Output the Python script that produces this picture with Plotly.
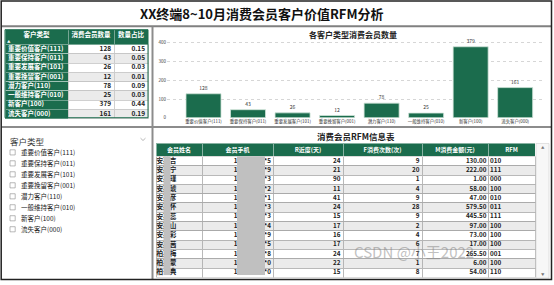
import plotly.graph_objects as go

# ---------------- data ----------------
TITLE = "XX终端8~10月消费会员客户价值RFM分析"
CHART_TITLE = "各客户类型消费会员数量"
TABLE_TITLE = "消费会员RFM信息表"
SLICER_TITLE = "客户类型"
WATERMARK = "CSDN @小王2022"

segments = ["重要价值客户(111)", "重要保持客户(011)", "重要发展客户(101)", "重要挽留客户(001)",
            "潜力客户(110)", "一般维持客户(010)", "新客户(100)", "流失客户(000)"]
member_counts = [128, 43, 26, 12, 78, 25, 379, 161]
member_shares = [0.15, 0.05, 0.03, 0.01, 0.09, 0.03, 0.44, 0.19]
summary_headers = ["客户类型", "消费会员数量", "数量占比"]
y_ticks = [0, 100, 200, 300, 400]

rfm_headers = ["会员姓名", "会员手机", "R近度(天)", "F消费次数(次)", "M消费金额(元)", "RFM"]
member_names = ["安某吉", "安某宁", "安某瑾", "安某琥", "安某彦", "安某怀", "安某蕊",
                "安某山", "安某彩", "安某茜", "柏某梅", "柏某蒙", "柏…典"]
member_phones = ["136*******5", "138*******9", "130*******3", "195*******2", "186*******1",
                 "159*******3", "177*******3", "185*******4", "138*******9", "133*******5",
                 "159*******8", "139*******0", "185*******0"]
recency_days = [24, 21, 90, 11, 41, 24, 15, 17, 16, 17, 24, 22, 15]
frequency_times = [9, 20, 1, 4, 9, 28, 9, 2, 4, 6, 7, 1, 8]
monetary_yuan = [130.00, 222.00, 1.00, 58.00, 47.00, 579.50, 445.50, 97.00, 73.00, 17.00, 265.50, 6.00, 54.00]
rfm_codes = ["010", "111", "000", "100", "010", "011", "111", "100", "100", "100", "001", "100", "110"]

# ---------------- style ----------------
W, H = 554, 285
FONT = "Noto Sans CJK SC, Noto Sans, sans-serif"
GREEN = "#1b6c4d"
STRIPE = "#ebebeb"
CLEAR = "rgba(0,0,0,0)"
PAD = 8  # plotly's internal table cell padding


def fx(x):
    return min(1.0, max(0.0, x / W))


def fy(y):
    return min(1.0, max(0.0, 1 - y / H))


fig = go.Figure()
shapes = []
annotations = []


def rect(x0, y0, x1, y1, color=CLEAR, width=0, fill=CLEAR):
    shapes.append(dict(type="rect", xref="paper", yref="paper", x0=fx(x0), x1=fx(x1), y0=fy(y1), y1=fy(y0),
                       line=dict(color=color, width=width), fillcolor=fill, layer="above"))


def hline(x0, x1, y, color, width):
    shapes.append(dict(type="line", xref="paper", yref="paper", x0=fx(x0), x1=fx(x1), y0=fy(y), y1=fy(y),
                       line=dict(color=color, width=width), layer="above"))


def vline(x, y0, y1, color, width):
    shapes.append(dict(type="line", xref="paper", yref="paper", x0=fx(x), x1=fx(x), y0=fy(y0), y1=fy(y1),
                       line=dict(color=color, width=width), layer="above"))


def label(x, y, s, size, color="#222", bold=False, xanchor="center"):
    annotations.append(dict(x=fx(x), y=fy(y), xref="paper", yref="paper", text=s, showarrow=False,
                            xanchor=xanchor, yanchor="middle",
                            font=dict(family=FONT, size=size, color=color, weight="bold" if bold else "normal")))


def draw_table(edges, y_top, head_h, row_h, head_vals, col_vals, aligns, pads, head_fs, cell_fs,
               head_center, cell_colors, col_fills, col_lines, head_line, groups=None):
    ncol = len(edges) - 1
    nrow = len(col_vals[0])
    widths = [edges[i + 1] - edges[i] for i in range(ncol)]
    total = head_h + nrow * row_h
    # 1) backgrounds & grid
    fig.add_trace(go.Table(
        domain=dict(x=[fx(edges[0]), fx(edges[-1])], y=[fy(y_top + total + 2), fy(y_top)]),
        columnwidth=widths,
        header=dict(values=[""] * ncol, height=head_h, fill_color=GREEN, line=dict(color=head_line, width=0.8)),
        cells=dict(values=[[""] * nrow for _ in range(ncol)], height=row_h,
                   fill_color=[list(c) for c in col_fills],
                   line=dict(color=col_lines, width=0.8)),
    ))
    # 2) header texts (centred in the real columns, shifted up to compensate internal padding)
    dyh = PAD + 0.5 * head_fs - head_center
    fig.add_trace(go.Table(
        domain=dict(x=[fx(edges[0]), fx(edges[-1])], y=[fy(y_top - dyh + head_h + 6), fy(y_top - dyh)]),
        columnwidth=widths,
        header=dict(values=head_vals, height=head_h, align="center", fill_color=CLEAR,
                    line=dict(width=0, color=CLEAR),
                    font=dict(family=FONT, size=head_fs, color="white", weight="bold")),
        cells=dict(values=[[""] for _ in range(ncol)], height=1, fill_color=CLEAR,
                   line=dict(width=0, color=CLEAR)),
    ))
    # 3) cell texts (column bounds widened so that the internal padding lands on the wanted edge)
    fs_all = cell_fs if isinstance(cell_fs, list) else [cell_fs] * ncol
    dyc = PAD + 0.5 * (sum(fs_all) / ncol) - row_h / 2
    top = y_top + head_h - dyc - 1
    for grp in (groups or [list(range(ncol))]):
        first = grp[0]
        bounds = [edges[first] + pads[first] - PAD if aligns[first] == "left" else edges[first]]
        for i in grp:
            bounds.append(edges[i + 1] - pads[i] + PAD if aligns[i] == "right" else edges[i + 1])
        fig.add_trace(go.Table(
            domain=dict(x=[fx(bounds[0]), fx(bounds[-1])], y=[fy(top + nrow * row_h + 30), fy(top)]),
            columnwidth=[bounds[k + 1] - bounds[k] for k in range(len(grp))],
            header=dict(values=[""] * len(grp), height=1, fill_color=CLEAR, line=dict(width=0, color=CLEAR)),
            cells=dict(values=[col_vals[i] for i in grp], height=row_h, align=[aligns[i] for i in grp],
                       fill_color=CLEAR, line=dict(width=0, color=CLEAR),
                       font=dict(family=FONT, size=[fs_all[i] for i in grp],
                                 color=[cell_colors[i] for i in grp], weight="bold")),
        ))


# ---------------- title ----------------
label(262, 13.5, TITLE, 13, "#111", bold=True)

# ---------------- summary table (top-left) ----------------
n_seg = len(segments)
stripes8 = ["white" if r % 2 == 0 else STRIPE for r in range(n_seg)]
draw_table(
    edges=[5, 68, 114, 148], y_top=30, head_h=15, row_h=9.25,
    head_vals=summary_headers,
    col_vals=[segments, [str(v) for v in member_counts], [f"{v:.2f}" for v in member_shares]],
    aligns=["left", "right", "right"], pads=[3, 2.5, 2.5],
    head_fs=6.5, cell_fs=6.5, head_center=5.5,
    cell_colors=["white", "#222", "#222"],
    col_fills=[[GREEN] * n_seg, stripes8, stripes8],
    col_lines=["rgba(255,255,255,0.45)", "#c4c4c4", "#c4c4c4"],
    head_line="rgba(255,255,255,0.5)",
)
rect(5, 30, 148, 30 + 15 + 8 * 9.25, color=GREEN, width=1)
label(9, 41.5, "▲", 3.5, "white")

# ---------------- bar chart (top-right) ----------------
fig.add_trace(go.Bar(
    x=segments, y=member_counts, width=0.786,
    marker=dict(color=GREEN, line=dict(color="#cfe3d8", width=0.8)),
    texttemplate="%{y}", textposition="outside", cliponaxis=False,
    textfont=dict(family=FONT, size=5, color="#333"),
    hoverinfo="skip",
))
label(353, 35, CHART_TITLE, 8, "#222", bold=True)

# ---------------- slicer (bottom-left) ----------------
label(8, 143, SLICER_TITLE, 8.5, "#333", xanchor="left")
shapes.append(dict(type="path", xref="paper", yref="paper",
                   path=f"M {fx(140.5)},{fy(139.6)} L {fx(143)},{fy(142)} L {fx(145.5)},{fy(139.6)}",
                   line=dict(color="#999", width=0.7), layer="above"))
for i, seg in enumerate(segments):
    yy = 154 + 11.1 * i
    rect(10, yy - 2.6, 15.2, yy + 2.6, color="#8a8a8a", width=0.6, fill="white")
    label(18.5, yy, seg, 6.5, "#222", xanchor="left")

# ---------------- RFM table (bottom-right) ----------------
n_mem = len(member_names)
stripes13 = ["white" if r % 2 == 0 else STRIPE for r in range(n_mem)]
label(356, 137.5, TABLE_TITLE, 8.5, "#222", bold=True)
draw_table(
    edges=[156, 202, 273, 343, 422, 488, 535], y_top=145, head_h=13, row_h=9.3,
    head_vals=rfm_headers,
    col_vals=[member_names, member_phones, [str(v) for v in recency_days], [str(v) for v in frequency_times],
              [f"{v:.2f}" for v in monetary_yuan], rfm_codes],
    aligns=["left", "right", "right", "right", "right", "left"], pads=[0.5, 2, 2.5, 2.5, 1.5, 2],
    head_fs=6, cell_fs=[6.6, 6.3, 6.3, 6.3, 6.3, 6.3], head_center=6.5,
    cell_colors=["#222"] * 6,
    col_fills=[stripes13 for _ in range(6)],
    col_lines=["#a8a8a8"] * 6,
    head_line="rgba(255,255,255,0.6)",
    groups=[[0, 1, 2, 3, 4], [5]],
)
# redaction boxes over names / phone numbers
rect(163.5, 158, 170.5, 278, fill="#c0c0c0")
rect(237, 158, 265, 278, fill="#c0c0c0")
# scrollbar
rect(536, 145, 549, 281, color="#d0d0d0", width=0.6, fill="#f7f7f7")
label(542.5, 149, "▲", 3.5, "#777")
label(542.5, 277, "▼", 3.5, "#777")
# watermark
annotations.append(dict(x=fx(476), y=fy(267), xref="paper", yref="paper", text=WATERMARK, showarrow=False,
                        font=dict(family=FONT, size=15, color="rgba(130,130,130,0.5)")))

# ---------------- panel separators ----------------
hline(1.5, 551.5, 26.5, "#808080", 2)
vline(152.5, 27, 282, "#8c8c8c", 2)
hline(1.5, 551.5, 128.3, "#8c8c8c", 2)
rect(1.2, 1, 551.5, 282.5, color="#222", width=1.5)

fig.update_layout(
    width=W, height=H, margin=dict(l=0, r=0, t=0, b=0, pad=0),
    paper_bgcolor="white", plot_bgcolor="white", showlegend=False,
    font=dict(family=FONT, color="#333"),
    shapes=shapes, annotations=annotations,
    xaxis=dict(domain=[fx(167), fx(545)], range=[-0.82, 7.67], type="category",
               showgrid=False, showline=False, zeroline=False, ticks="", tickangle=0,
               tickfont=dict(family=FONT, size=4.4, color="#333"), fixedrange=True),
    yaxis=dict(domain=[fy(119), fy(39.5)], range=[0, 420], tickvals=y_ticks,
               showgrid=True, gridcolor="#d6d6d6", griddash="dot", gridwidth=0.7,
               zeroline=False, showline=False, ticks="",
               tickfont=dict(family=FONT, size=4.5, color="#444"), fixedrange=True),
    bargap=0.2,
)

fig.write_html("out.html")
